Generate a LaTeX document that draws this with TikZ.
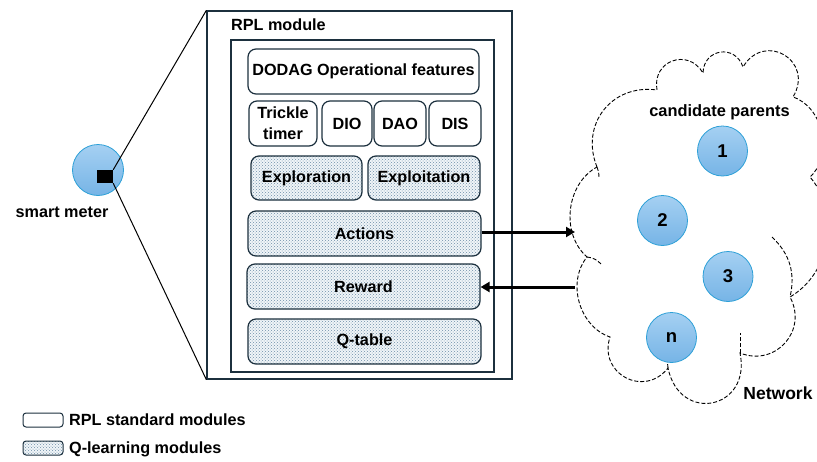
\documentclass[tikz,border=0pt]{standalone}
\usepackage{fontspec}
\setmainfont{Liberation Sans}
\usetikzlibrary{patterns,arrows.meta}
\definecolor{bordc}{RGB}{28,48,62}
\definecolor{dotc}{RGB}{110,142,168}
\definecolor{dotbg}{RGB}{240,245,248}
\definecolor{circtop}{RGB}{165,208,242}
\definecolor{circbot}{RGB}{118,180,230}
\definecolor{circline}{RGB}{45,160,215}
\begin{document}
\begin{tikzpicture}[x=1pt,y=-1pt,
  txt/.style={font=\fontsize{16.2}{19}\selectfont\bfseries, inner sep=0pt},
  stdbox/.style={draw=bordc, line width=1.2pt, rounded corners=8pt, minimum height=45pt,
    inner sep=0pt, align=center, font=\fontsize{16.2}{21}\selectfont\bfseries},
  qbox/.style={stdbox, preaction={fill=dotbg}, pattern=crosshatch dots, pattern color=dotc},
  frame/.style={draw=bordc, line width=1.3pt, inner sep=0pt},
  parent/.style={circle, draw=circline, line width=0.8pt, top color=circtop, bottom color=circbot,
    minimum size=50pt, inner sep=0pt, font=\fontsize{18.5}{20}\selectfont\bfseries},
  cloudline/.style={draw=black, line width=0.9pt, dash pattern=on 4pt off 2pt},
  flow/.style={draw=black, line width=3pt, -{Triangle[length=9pt,width=10pt]}}
]
\useasboundingbox (0,0) rectangle (817,461);
% smart meter
\node[circle, draw=circline, line width=0.8pt, top color=circtop, bottom color=circbot,
  minimum size=51pt, inner sep=0pt] (meter) at (98,170) {};
\node[fill=black, minimum width=16pt, minimum height=13pt, inner sep=0pt] (chip) at (105,176.5) {};
\node[txt] (meterlbl) at (62,212) {smart meter};
% RPL module frames
\node[frame, minimum width=305pt, minimum height=368pt] (outer) at (359.5,195) {};
\node[frame, minimum width=263pt, minimum height=332pt] (inner) at (362.5,206) {};
\node[txt, anchor=west] (rpllbl) at (231,25) {RPL module};
\draw[line width=1pt] (chip.north east) -- (outer.north west);
\draw[line width=1pt] (chip.south east) -- (outer.south west);
% modules
\node[stdbox, minimum width=231pt] (dodag) at (363.5,71.5) {DODAG Operational features};
\node[stdbox, minimum width=68pt] (trickle) at (283,123.5) {Trickle\\timer};
\node[stdbox, minimum width=50pt] (dio) at (347,123.5) {DIO};
\node[stdbox, minimum width=52pt] (dao) at (400,123.5) {DAO};
\node[stdbox, minimum width=52pt] (dis) at (455,123.5) {DIS};
\node[qbox, minimum width=111pt, minimum height=44pt] (explor) at (306.5,178) {Exploration};
\node[qbox, minimum width=112pt, minimum height=44pt] (exploit) at (424,178) {Exploitation};
\node[qbox, minimum width=233pt] (actions) at (364.5,233.5) {Actions};
\node[qbox, minimum width=233pt] (reward) at (363.5,286.5) {Reward};
\node[qbox, minimum width=233pt] (qtable) at (364.5,341.5) {Q-table};
% network cloud
\draw[cloudline] (597,167) to[bend left=60,looseness=1.2] (657,90)
  to[bend left=80,looseness=1.55] (703,73)
  to[bend left=80,looseness=1.55] (743,67)
  to[bend left=90,looseness=1.85] (793,97)
  to[bend left=60,looseness=1] (810,177)
  to[bend left=50,looseness=1] (790,297)
  to[bend left=70,looseness=1.3] (740,353)
  to[bend left=90,looseness=2] (668,368)
  to[bend left=80,looseness=1.5] (610,337)
  to[bend left=55,looseness=1] (587,257)
  to[bend left=55,looseness=1] cycle;
\draw[cloudline] (772,237) to[bend left=30] (790,297);
\draw[cloudline] (587,257) to[bend left=20] (601,264);
\draw[cloudline] (597,167) to[bend left=10] (599,178);
\draw[cloudline] (740,353) -- (740,333);
\draw[cloudline] (668,368) -- (667,358);
\node[txt, font=\fontsize{16.4}{19}\selectfont\bfseries] (cand) at (719.5,112) {candidate parents};
\node[parent] (p1) at (722.5,151) {1};
\node[parent] (p2) at (662.5,220.5) {2};
\node[parent] (p3) at (728,276.5) {3};
\node[parent] (pn) at (671.5,337.5) {n};
\node[txt, font=\fontsize{17.5}{19}\selectfont\bfseries] (netlbl) at (778,393) {Network};
% arrows
\coordinate (cin) at (575,232);
\coordinate (cout) at (575,287);
\draw[flow] (actions.east |- cin) -- (cin);
\draw[flow] (cout) -- (reward.east |- cout);
% legend
\node[draw=bordc, line width=1pt, rounded corners=3pt, minimum width=40pt, minimum height=14pt, inner sep=0pt] (leg1) at (43,420) {};
\node[txt, anchor=west] (leg1lbl) at (69,420) {RPL standard modules};
\node[draw=bordc, line width=1pt, rounded corners=3pt, minimum width=40pt, minimum height=14pt, inner sep=0pt,
  preaction={fill=dotbg}, pattern=crosshatch dots, pattern color=dotc] (leg2) at (43,448) {};
\node[txt, anchor=west] (leg2lbl) at (69,449) {Q-learning modules};
\end{tikzpicture}
\end{document}
